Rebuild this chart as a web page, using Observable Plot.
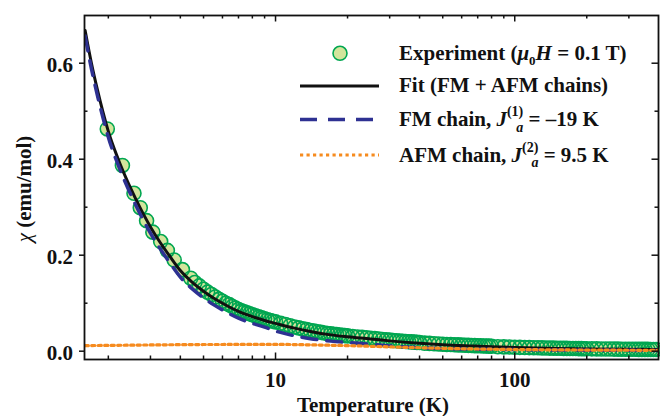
<!DOCTYPE html>
<html>
<head>
<meta charset="utf-8">
<script src="https://cdn.jsdelivr.net/npm/d3@7"></script>
<script src="https://cdn.jsdelivr.net/npm/@observablehq/plot@0.6"></script>
<style>
  html, body { margin: 0; padding: 0; background: #fff; }
  #chart svg { display: block; }
</style>
</head>
<body>
<div id="chart"></div>
<script>
// Measured susceptibility, 0.1 T
const expT = [1.98, 2.29, 2.56, 2.72, 2.89, 3.07, 3.31, 3.53, 3.77, 4.08, 4.42,
  4.6, 4.8, 5.0, 5.2, 5.4, 5.6, 5.8, 6.0, 6.2, 6.4, 6.6, 6.8, 7.0, 7.2, 7.4, 7.6, 7.8, 8.0,
  8.25, 8.5, 8.75, 9.0, 9.25, 9.5, 9.75, 10,
  10.5, 11, 11.5, 12, 12.5, 13, 13.5, 14, 14.5, 15, 15.5, 16, 16.5, 17, 17.5, 18, 18.5, 19, 19.5, 20,
  21, 22, 23, 24, 25, 26, 27, 28, 29, 30, 31, 32, 33, 34, 35, 36, 37, 38, 39, 40,
  42, 44, 46, 48, 50, 52, 54, 56, 58, 60, 62, 64, 66, 68, 70, 72, 74, 76, 78, 80,
  85, 90, 95, 100, 105, 110, 115, 120, 125, 130, 135, 140, 145, 150, 155, 160, 165, 170, 175, 180, 185, 190, 195, 200,
  210, 220, 230, 240, 250, 260, 270, 280, 290, 300, 310, 320, 330, 340, 350, 360, 370, 380, 390];
const expChi = [0.463, 0.387, 0.329, 0.299, 0.272, 0.248, 0.2285, 0.21, 0.19, 0.170, 0.152,
  0.143, 0.136, 0.129, 0.123, 0.118, 0.113, 0.108, 0.104, 0.100, 0.097, 0.093, 0.090, 0.087, 0.084, 0.082, 0.080, 0.078, 0.076,
  0.0735, 0.0715, 0.0695, 0.0675, 0.0655, 0.064, 0.0625, 0.061,
  0.058, 0.0555, 0.053, 0.0505, 0.0485, 0.0465, 0.045, 0.043, 0.042, 0.0405, 0.0393, 0.038, 0.037, 0.036, 0.035, 0.0345, 0.0338, 0.033, 0.0325, 0.032,
  0.0305, 0.0296, 0.0287, 0.0278, 0.027, 0.0261, 0.0253, 0.0245, 0.0237, 0.023, 0.0224, 0.0219, 0.0213, 0.0208, 0.0203, 0.0198, 0.0194, 0.0189, 0.0184, 0.018,
  0.0168, 0.0162, 0.0156, 0.015, 0.0145, 0.0141, 0.0138, 0.0134, 0.0131, 0.0128, 0.0125, 0.0122, 0.0119, 0.0116, 0.0114, 0.0112, 0.0109, 0.0107, 0.0105, 0.0103,
  0.0094, 0.009, 0.0086, 0.0082, 0.008, 0.0077, 0.0075, 0.0073, 0.0071, 0.0069, 0.0067, 0.0065, 0.0063, 0.0061, 0.006, 0.0059, 0.0058, 0.0057, 0.0056, 0.0055, 0.0054, 0.0053, 0.0052, 0.0051,
  0.0049, 0.0048, 0.0047, 0.0046, 0.0045, 0.0044, 0.0043, 0.0042, 0.0041, 0.004, 0.0039, 0.0039, 0.0038, 0.0038, 0.0037, 0.0037, 0.0036, 0.0036, 0.0036];

// Model curves: total fit, ferromagnetic chain, antiferromagnetic chain
const curveT = [1.6, 1.7, 1.8, 1.9, 2.0, 2.2, 2.4, 2.6, 2.8, 3.0, 3.3, 3.6, 4.0, 4.5, 5.0, 5.5, 6, 7, 8, 9,
  10, 12, 14, 17, 20, 25, 30, 40, 50, 65, 80, 100, 150, 200, 300, 400];
const fitChi = [0.668, 0.600, 0.545, 0.498, 0.458, 0.400, 0.355, 0.318, 0.286, 0.259, 0.226, 0.199, 0.168, 0.143, 0.125, 0.111, 0.100, 0.083, 0.072, 0.064,
  0.058, 0.048, 0.041, 0.034, 0.030, 0.0255, 0.0215, 0.0165, 0.0135, 0.011, 0.0093, 0.0078, 0.0058, 0.0048, 0.0038, 0.0033];
const fmChi = [0.6565, 0.5883, 0.5331, 0.486, 0.4459, 0.3877, 0.3425, 0.3053, 0.2731, 0.246, 0.2128, 0.1856, 0.1544, 0.1292, 0.1111, 0.097, 0.086, 0.0689, 0.0579, 0.050,
  0.042, 0.032, 0.026, 0.021, 0.018, 0.0145, 0.011, 0.0075, 0.0058, 0.0045, 0.0038, 0.0033, 0.0026, 0.0022, 0.0018, 0.0015];
const afmChi = [0.0115, 0.0117, 0.0119, 0.012, 0.0121, 0.0123, 0.0125, 0.0127, 0.0129, 0.013, 0.0132, 0.0134, 0.0136, 0.0138, 0.0139, 0.014, 0.014, 0.0141, 0.0141, 0.0141,
  0.0142, 0.0138, 0.0132, 0.0124, 0.0116, 0.0102, 0.0090, 0.0072, 0.0060, 0.0048, 0.0041, 0.0035, 0.0028, 0.0024, 0.002, 0.0017];

// Axis ticks
const xMajorTicks = [10, 100];
const xMinorTicks = [2, 3, 4, 5, 6, 7, 8, 9, 20, 30, 40, 50, 60, 70, 80, 90, 200, 300];
const yMajorTicks = [0, 0.2, 0.4, 0.6];
const yMinorTicks = [0.1, 0.3, 0.5];

const W = 660, H = 416, mL = 84, mR = 2, mT = 15, mB = 57;
const innerW = W - mL - mR, innerH = H - mT - mB;
const FONT = "'Liberation Serif', 'Times New Roman', Times, serif";
const INK = "#111";
const GREEN = "#00a651", LIGHT = "#d3e59c", BLUE = "#2e3192", ORANGE = "#f68b1f";

const points = expT.map((T, i) => ({T, chi: expChi[i]}));
const model = curveT.map((T, i) => ({T, fit: fitChi[i], fm: fmChi[i], afm: afmChi[i]}));

const MAJ = 6.5, MIN = 3.5;
const tickStyle = {stroke: INK, strokeWidth: 1.5};

const chart = Plot.plot({
  width: W, height: H,
  marginLeft: mL, marginRight: mR, marginTop: mT, marginBottom: mB,
  x: {type: "log", domain: [1.59, 399]},
  y: {domain: [-0.0173, 0.6994]},
  style: {fontFamily: FONT, fontWeight: "bold", color: INK, background: "#fff", overflow: "visible"},
  marks: [
    // experimental points: fills first, outlines on top
    Plot.dot(points, {x: "T", y: "chi", r: 7, fill: LIGHT, stroke: "none"}),
    Plot.dot(points, {x: "T", y: "chi", r: 7, fill: "none", stroke: GREEN, strokeWidth: 1.6}),
    Plot.line(model, {x: "T", y: "fit", stroke: INK, strokeWidth: 3, curve: "monotone-x", clip: true}),
    Plot.line(model, {x: "T", y: "fm", stroke: BLUE, strokeWidth: 3.5, strokeDasharray: "15,10", curve: "monotone-x", clip: true}),
    Plot.line(model, {x: "T", y: "afm", stroke: ORANGE, strokeWidth: 3.2, strokeDasharray: "3.2,3.3", curve: "monotone-x", clip: true}),
    Plot.frame({stroke: INK, strokeWidth: 1.8}),
    // bottom and top ticks, pointing inward
    Plot.tickX(xMajorTicks, {x: d => d, insetTop: innerH - MAJ, ...tickStyle}),
    Plot.tickX(xMinorTicks, {x: d => d, insetTop: innerH - MIN, ...tickStyle}),
    Plot.tickX(xMajorTicks, {x: d => d, insetBottom: innerH - MAJ, ...tickStyle}),
    Plot.tickX(xMinorTicks, {x: d => d, insetBottom: innerH - MIN, ...tickStyle}),
    // left ticks
    Plot.tickY(yMajorTicks, {y: d => d, insetLeft: -5, insetRight: innerW, ...tickStyle}),
    Plot.tickY(yMinorTicks, {y: d => d, insetRight: innerW - MIN, ...tickStyle}),
    // right ticks, pointing inward
    Plot.tickY(yMajorTicks, {y: d => d, insetLeft: innerW - MAJ, ...tickStyle}),
    Plot.tickY(yMinorTicks, {y: d => d, insetLeft: innerW - MIN, ...tickStyle}),
    Plot.axisX({ticks: xMajorTicks, tickSize: 0, tickPadding: 13, tickFormat: d => String(d), fontSize: 21, label: null}),
    Plot.axisY({ticks: yMajorTicks, tickSize: 0, tickPadding: 11.5, tickFormat: d3.format(".1f"), fontSize: 21, label: null, dy: 2})
  ]
});

document.getElementById("chart").appendChild(chart);

const svg = d3.select(chart);

// axis titles
svg.append("text")
  .attr("x", 373).attr("y", 411.5)
  .attr("text-anchor", "middle")
  .attr("font-family", FONT).attr("font-weight", "bold").attr("font-size", 21).attr("fill", INK)
  .text("Temperature (K)");

const yTitle = svg.append("text")
  .attr("transform", "translate(30.5,189) rotate(-90)")
  .attr("text-anchor", "middle")
  .attr("font-family", FONT).attr("font-weight", "bold").attr("font-size", 21).attr("fill", INK);
yTitle.append("tspan").attr("font-style", "italic").attr("font-weight", "normal").text("χ");
yTitle.append("tspan").text(" (emu/mol)");

// legend
const lg = svg.append("g")
  .attr("text-anchor", "start")
  .attr("font-family", FONT).attr("font-weight", "bold").attr("font-size", 21).attr("fill", INK);

function addText(x, y, parts) {
  const t = lg.append("text").attr("x", x).attr("y", y).attr("text-anchor", "start");
  for (const p of parts) {
    const s = t.append("tspan").text(p.s);
    if (p.i) s.attr("font-style", "italic");
    if (p.size) s.attr("font-size", p.size);
    if (p.dx) s.attr("dx", p.dx);
    if (p.dy) s.attr("dy", p.dy);
  }
}

const lx0 = 300, lx1 = 379, tx = 399;
lg.append("circle").attr("cx", 340).attr("cy", 53.3).attr("r", 7)
  .attr("fill", LIGHT).attr("stroke", GREEN).attr("stroke-width", 1.6);
lg.append("line").attr("x1", lx0).attr("x2", lx1).attr("y1", 86).attr("y2", 86)
  .attr("stroke", INK).attr("stroke-width", 3);
lg.append("line").attr("x1", lx0).attr("x2", lx1).attr("y1", 119.5).attr("y2", 119.5)
  .attr("stroke", BLUE).attr("stroke-width", 3.5).attr("stroke-dasharray", "17,11");
lg.append("line").attr("x1", lx0).attr("x2", lx1).attr("y1", 155).attr("y2", 155)
  .attr("stroke", ORANGE).attr("stroke-width", 3.2).attr("stroke-dasharray", "3.2,3.3");

addText(tx, 60, [{s: "Experiment ("}, {s: "μ", i: 1}, {s: "0", size: 13, dy: 5}, {s: "H", i: 1, dy: -5}, {s: " = 0.1 T)"}]);
addText(tx, 92, [{s: "Fit (FM + AFM chains)"}]);
addText(tx, 126, [{s: "FM chain, "}, {s: "J", i: 1}, {s: "(1)", size: 14, dy: -10},
  {s: "a", i: 1, size: 14, dx: -7, dy: 15.7}, {s: " = –19 K", dy: -5.7}]);
addText(tx, 161.5, [{s: "AFM chain, "}, {s: "J", i: 1}, {s: "(2)", size: 14, dy: -10},
  {s: "a", i: 1, size: 14, dx: -7, dy: 15.7}, {s: " = 9.5 K", dy: -5.7}]);
</script>
</body>
</html>
